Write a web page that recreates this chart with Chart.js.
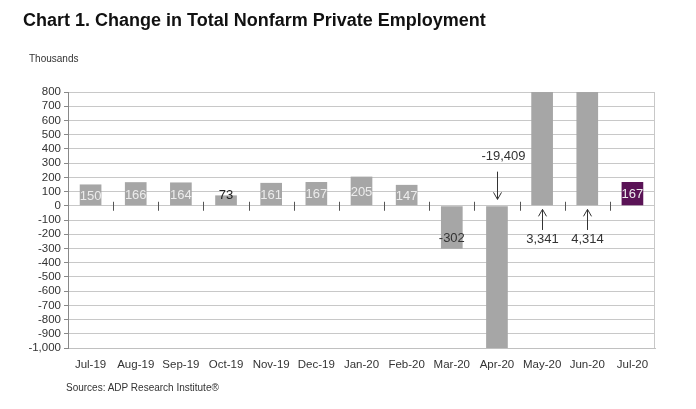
<!DOCTYPE html>
<html>
<head>
<meta charset="utf-8">
<script src="https://cdn.jsdelivr.net/npm/chart.js@4/dist/chart.umd.min.js"></script>
<style>
  body { margin: 0; background: #fff; font-family: "Liberation Sans", Arial, sans-serif; }
  #wrap { position: relative; width: 696px; height: 409px; }
  #title { position: absolute; left: 23px; top: 10px; font-size: 18px; font-weight: bold; color: #111; }
  #units { position: absolute; left: 29px; top: 53px; font-size: 10px; color: #333; }
  #source { position: absolute; left: 66px; top: 382px; font-size: 10px; color: #333; }
  canvas { position: absolute; left: 0; top: 0; }
</style>
</head>
<body>
<div id="wrap">
  <canvas id="mygraph" width="696" height="409"></canvas>
  <div id="title">Chart 1. Change in Total Nonfarm Private Employment</div>
  <div id="units">Thousands</div>
  <div id="source">Sources: ADP Research Institute®</div>
</div>
<script>
// months shown on the x axis
let months = ["Jul-19", "Aug-19", "Sep-19", "Oct-19", "Nov-19", "Dec-19", "Jan-20",
    "Feb-20", "Mar-20", "Apr-20", "May-20", "Jun-20", "Jul-20"];

// monthly change, thousands
let changes = [150, 166, 164, 73, 161, 167, 205, 147, -302, -19409, 3341, 4314, 167];

// values that run off the axis get a callout instead of an inside label
let callouts = [
    { index: 9, text: "-19,409", textAt: 345, from: 240, to: 45 },
    { index: 10, text: "3,341", textAt: -240, from: -170, to: -25 },
    { index: 11, text: "4,314", textAt: -240, from: -170, to: -25 },
];

let yMin = -1000;
let yMax = 800;

let barColors = changes.map((v, i) => i === changes.length - 1 ? "#5a1356" : "#a6a6a6");

function fmt(v) {
    return v.toLocaleString("en-US");
}

// labels inside the bars + zero-line ticks + callouts
let extras = {
    id: "extras",
    afterDatasetsDraw(chart) {
        let c = chart.ctx;
        let xs = chart.scales.x;
        let ys = chart.scales.y;
        let zero = ys.getPixelForValue(0);
        c.save();

        // short tick marks on the zero line, between categories
        c.strokeStyle = "#555";
        c.lineWidth = 1;
        for (let i = 1; i < months.length; i++) {
            let bx = Math.round((xs.getPixelForValue(i - 1) + xs.getPixelForValue(i)) / 2) + 0.5;
            c.beginPath();
            c.moveTo(bx, zero - 4);
            c.lineTo(bx, zero + 5);
            c.stroke();
        }

        c.font = "13px 'Liberation Sans', Arial, sans-serif";
        c.textAlign = "center";
        c.textBaseline = "middle";
        changes.forEach((v, i) => {
            if (v > yMax || v < yMin) return;
            let x = xs.getPixelForValue(i);
            let y;
            if (Math.abs(v) < 100) {
                y = ys.getPixelForValue(v);
                c.fillStyle = "#222";
            } else if (v < 0) {
                y = ys.getPixelForValue(v * 0.75);
                c.fillStyle = "#333";
            } else {
                y = ys.getPixelForValue(v / 2) + 1;
                c.fillStyle = i === changes.length - 1 ? "#eee" : "#ececec";
            }
            c.fillText(fmt(v), x, y);
        });

        // callouts with arrows
        callouts.forEach((o) => {
            let x = Math.round(xs.getPixelForValue(o.index)) + 0.5;
            let yt = ys.getPixelForValue(o.textAt);
            let y1 = ys.getPixelForValue(o.from);
            let y2 = ys.getPixelForValue(o.to);
            c.fillStyle = "#333";
            c.fillText(o.text, x + (o.index === 9 ? 6 : 0), yt);
            c.strokeStyle = "#333";
            c.beginPath();
            c.moveTo(x, y1);
            c.lineTo(x, y2);
            let dir = y2 > y1 ? -1 : 1;
            c.moveTo(x - 4, y2 + dir * 7);
            c.lineTo(x, y2);
            c.lineTo(x + 4, y2 + dir * 7);
            c.stroke();
        });
        c.restore();
    },
};

let ctx = document.getElementById("mygraph").getContext("2d");

let chart = new Chart(ctx, {
    type: "bar",
    data: {
        labels: months,
        datasets: [{
            label: "Change in Total Nonfarm Private Employment",
            data: changes,
            backgroundColor: barColors,
            barPercentage: 0.48,
            categoryPercentage: 1,
        }, ],
    },
    options: {
        responsive: false,
        animation: false,
        layout: {
            padding: { left: 10, right: 41, top: 92, bottom: 31 },
        },
        plugins: {
            legend: { display: false },
            tooltip: { enabled: false },
        },
        scales: {
            x: {
                grid: { display: false, drawTicks: false },
                border: { display: true, color: "#c0c0c0" },
                ticks: {
                    color: "#333",
                    font: { family: "'Liberation Sans', Arial, sans-serif", size: 11.5 },
                    padding: 10,
                    maxRotation: 0,
                    autoSkip: false,
                },
                afterFit: (s) => { s.height = 30; },
            },
            y: {
                min: yMin,
                max: yMax,
                ticks: {
                    stepSize: 100,
                    autoSkip: false,
                    color: "#333",
                    font: { family: "'Liberation Sans', Arial, sans-serif", size: 11.5 },
                    padding: 3,
                    callback: (v) => fmt(v),
                },
                grid: {
                    color: "#c8c8c8",
                    tickLength: 4,
                    tickColor: "#888",
                },
                border: { display: true, color: "#888" },
                afterFit: (s) => { s.width = 58; },
            },
        },
    },
    plugins: [extras, {
        id: "rightEdge",
        afterDraw(chart) {
            let a = chart.chartArea;
            let c = chart.ctx;
            c.save();
            c.strokeStyle = "#c8c8c8";
            c.beginPath();
            c.moveTo(Math.round(a.right) - 0.5, a.top);
            c.lineTo(Math.round(a.right) - 0.5, a.bottom);
            c.stroke();
            c.restore();
        },
    }],
});
</script>
</body>
</html>
